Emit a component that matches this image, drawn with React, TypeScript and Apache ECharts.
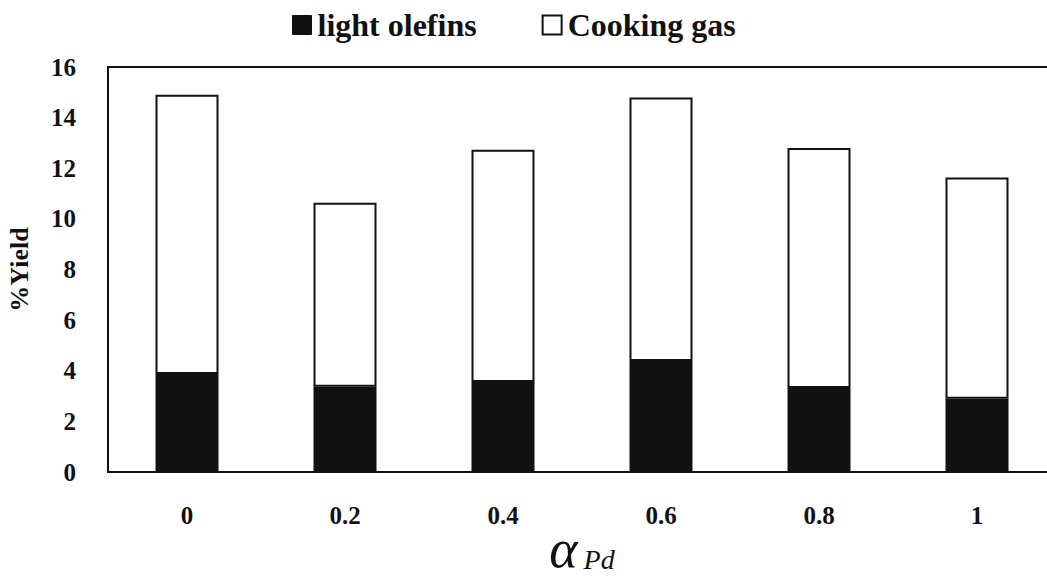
import React, { useEffect, useRef } from "react";
import * as echarts from "echarts";

const categories = ["0", "0.2", "0.4", "0.6", "0.8", "1"];
const lightOlefins = [3.87, 3.37, 3.56, 4.39, 3.32, 2.89];
const cookingGas = [11.03, 7.27, 9.17, 10.41, 9.48, 8.74];
const yTicks = { min: 0, max: 16, interval: 2 };

const FONT = "Liberation Serif";

export default function App() {
  const ref = useRef<HTMLDivElement>(null);
  useEffect(() => {
    if (!ref.current) return;
    const chart = echarts.init(ref.current, undefined, { renderer: "svg" });
    chart.setOption({
      animation: false,
      backgroundColor: "#ffffff",
      textStyle: { fontFamily: FONT },
      legend: {
        top: 4,
        left: 287,
        itemWidth: 19,
        itemHeight: 19,
        itemGap: 65,
        icon: "rect",
        textStyle: { fontFamily: FONT, fontWeight: "bold", fontSize: 32, color: "#111", padding: [0, 0, 0, 1] },
        data: [
          { name: "light olefins", itemStyle: { color: "#111", borderColor: "#111", borderWidth: 1 } },
          { name: "Cooking gas", itemStyle: { color: "#fff", borderColor: "#111", borderWidth: 2 } },
        ],
      },
      grid: {
        left: 108,
        top: 67,
        width: 948,
        height: 405,
        outerBoundsMode: "none",
        containLabel: false,
        show: true,
        borderColor: "#111",
        borderWidth: 2,
        backgroundColor: "transparent",
      },
      xAxis: {
        type: "category",
        data: categories,
        axisLine: { lineStyle: { color: "#111", width: 2 } },
        axisTick: { show: false },
        axisLabel: { fontFamily: FONT, fontWeight: "bold", fontSize: 25, color: "#111", margin: 31 },
        name: "{a|α}{s|Pd}",
        nameLocation: "middle",
        nameMoveOverlap: false,
        nameGap: 50,
        nameTextStyle: {
          rich: {
            a: { fontFamily: FONT, fontStyle: "italic", fontSize: 54, lineHeight: 54, color: "#111" },
            s: { fontFamily: FONT, fontStyle: "italic", fontSize: 28, lineHeight: 28, color: "#111", padding: [20, 0, 0, 6] },
          },
        },
      },
      yAxis: {
        type: "value",
        min: yTicks.min,
        max: yTicks.max,
        interval: yTicks.interval,
        axisLine: { show: true, lineStyle: { color: "#111", width: 2 } },
        axisTick: { show: false },
        splitLine: { show: false },
        axisLabel: { fontFamily: FONT, fontWeight: "bold", fontSize: 25, color: "#111", margin: 32 },
        name: "%Yield",
        nameLocation: "middle",
        nameMoveOverlap: false,
        nameGap: 76,
        nameTextStyle: { fontFamily: FONT, fontWeight: "bold", fontSize: 26, color: "#111" },
      },
      series: [
        {
          name: "light olefins",
          type: "bar",
          stack: "y",
          barWidth: 63,
          data: lightOlefins,
          itemStyle: { color: "#111", borderColor: "#111", borderWidth: 1.5 },
        },
        {
          name: "Cooking gas",
          type: "bar",
          stack: "y",
          barWidth: 63,
          data: cookingGas,
          itemStyle: { color: "#fff", borderColor: "#111", borderWidth: 2 },
        },
      ],
    });
    return () => chart.dispose();
  }, []);
  return (
    <div
      ref={ref}
      style={{ position: "fixed", left: 0, top: 0, width: 1047, height: 578, background: "#fff" }}
    />
  );
}
